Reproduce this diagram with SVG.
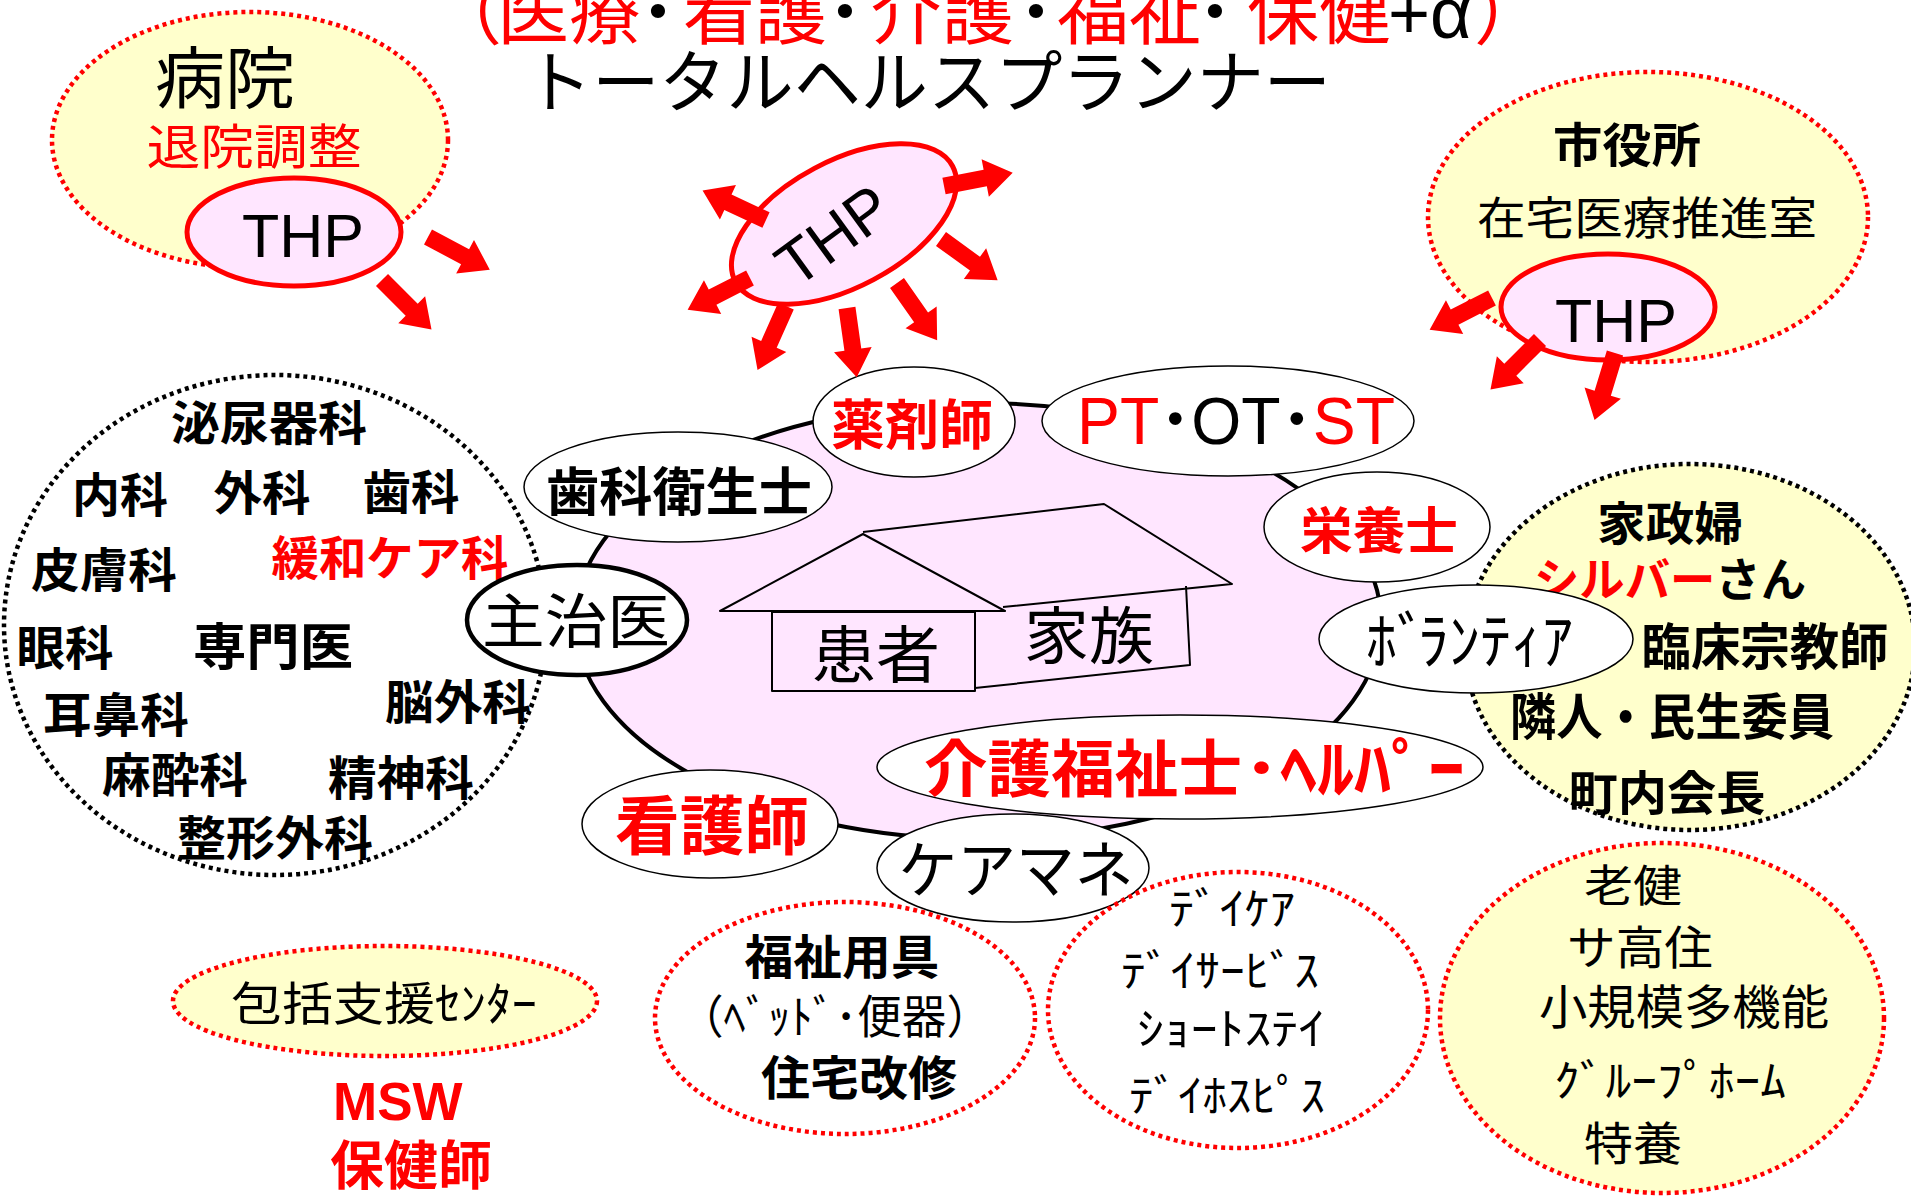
<svg xmlns="http://www.w3.org/2000/svg" xmlns:xlink="http://www.w3.org/1999/xlink" width="1911" height="1196" viewBox="0 0 1911 1196">
<style>
.bg{fill:#fff}
.dotR{stroke:#FF0000;stroke-width:4.5;stroke-dasharray:4 4}
.dotK{stroke:#000;stroke-width:4.5;stroke-dasharray:4 4}
.yel{fill:#FFFFCC}
.wht{fill:#fff}
.node{fill:#fff;stroke:#000;stroke-width:1.5}
.thp{fill:#FFE6FF;stroke:#FF0000;stroke-width:5}
.house{fill:none;stroke:#000;stroke-width:2;stroke-linejoin:round}
text{font-family:"Noto Sans CJK JP","Noto Sans CJK SC",sans-serif;text-anchor:middle;fill:#000}
.b{font-weight:bold}
.r{fill:#FF0000}
.lat{font-family:"Liberation Sans","Noto Sans CJK JP",sans-serif}
</style>
<defs>
<path id="ar" d="M0,-8.5 L42,-8.5 L42,-19 L70,0 L42,19 L42,8.5 L0,8.5 Z" fill="#FF0000"/>
</defs>
<rect class="bg" x="0" y="0" width="1911" height="1196"/>

<g id="title">
<text y="38" font-size="72" style="text-anchor:start"><tspan x="430" class="r">（</tspan><tspan x="497" class="r">医療</tspan><tspan x="640" class="b">･</tspan><tspan x="683" class="r">看護</tspan><tspan x="827" class="b">･</tspan><tspan x="870" class="r">介護</tspan><tspan x="1018" class="b">･</tspan><tspan x="1057" class="r">福祉</tspan><tspan x="1197" class="b">･</tspan><tspan x="1247" class="r">保健</tspan><tspan x="1388" class="lat">+α</tspan><tspan x="1474" class="r">）</tspan></text>
<text x="928" y="107" font-size="68" textLength="806" lengthAdjust="spacingAndGlyphs">トータルヘルスプランナー</text>
</g>

<g id="hospital">
<ellipse class="yel dotR" cx="250" cy="140" rx="198" ry="128"/>
<text x="225" y="103" font-size="67" textLength="140" lengthAdjust="spacingAndGlyphs">病院</text>
<text class="r" x="254" y="164" font-size="48" textLength="215" lengthAdjust="spacingAndGlyphs">退院調整</text>
<ellipse class="thp" cx="294" cy="232" rx="107" ry="54"/>
<text class="lat" x="303" y="257" font-size="61">THP</text>
</g>

<g id="cityhall">
<ellipse class="yel dotR" cx="1648" cy="217" rx="220" ry="145"/>
<text class="b" x="1627" y="162" font-size="47" textLength="148" lengthAdjust="spacingAndGlyphs">市役所</text>
<text x="1647" y="235" font-size="45" textLength="340" lengthAdjust="spacingAndGlyphs">在宅医療推進室</text>
<ellipse class="thp" cx="1608" cy="307" rx="107" ry="53"/>
<text class="lat" x="1616" y="342" font-size="61">THP</text>
</g>

<g id="specialists">
<ellipse class="wht dotK" cx="275" cy="625" rx="271" ry="250"/>
<g class="b" font-size="47">
<text x="269" y="440" textLength="196" lengthAdjust="spacingAndGlyphs">泌尿器科</text>
<text x="120" y="512" textLength="96" lengthAdjust="spacingAndGlyphs">内科</text>
<text x="262" y="510" textLength="97" lengthAdjust="spacingAndGlyphs">外科</text>
<text x="411" y="509" textLength="97" lengthAdjust="spacingAndGlyphs">歯科</text>
<text x="104" y="587" textLength="146" lengthAdjust="spacingAndGlyphs">皮膚科</text>
<text class="r" x="390" y="575" textLength="237" lengthAdjust="spacingAndGlyphs">緩和ケア科</text>
<text x="65" y="665" textLength="97" lengthAdjust="spacingAndGlyphs">眼科</text>
<text x="273" y="665" font-size="50" textLength="160" lengthAdjust="spacingAndGlyphs">専門医</text>
<text x="458" y="719" textLength="146" lengthAdjust="spacingAndGlyphs">脳外科</text>
<text x="116" y="732" textLength="146" lengthAdjust="spacingAndGlyphs">耳鼻科</text>
<text x="175" y="792" textLength="146" lengthAdjust="spacingAndGlyphs">麻酔科</text>
<text x="401" y="795" textLength="146" lengthAdjust="spacingAndGlyphs">精神科</text>
<text x="275" y="855" textLength="196" lengthAdjust="spacingAndGlyphs">整形外科</text>
</g>
</g>

<g id="community">
<ellipse class="yel dotK" cx="1690" cy="647" rx="225" ry="183"/>
<g class="b">
<text x="1670" y="540" font-size="46" textLength="146" lengthAdjust="spacingAndGlyphs">家政婦</text>
<text x="1670" y="596" font-size="46" textLength="272" lengthAdjust="spacingAndGlyphs"><tspan class="r">シルバー</tspan>さん</text>
<text x="1765" y="665" font-size="50" textLength="247" lengthAdjust="spacingAndGlyphs">臨床宗教師</text>
<text x="1672" y="735" font-size="50" textLength="324" lengthAdjust="spacingAndGlyphs">隣人・民生委員</text>
<text x="1667" y="810" font-size="47" textLength="197" lengthAdjust="spacingAndGlyphs">町内会長</text>
</g>
</g>

<g id="home-circle">
<ellipse cx="978" cy="621" rx="403" ry="218" fill="#FFE6FF" stroke="#000" stroke-width="4"/>
</g>

<g id="house">
<polyline class="house" points="863,532 1104,504 1232,584 1003,607"/>
<polygon class="house" points="720,611 863,534 1005,611"/>
<rect class="house" x="772" y="612" width="203" height="79"/>
<polyline class="house" points="1186,586 1190,665 975,688"/>
<text x="876" y="678" font-size="62" textLength="128" lengthAdjust="spacingAndGlyphs">患者</text>
<text x="1089" y="659" font-size="62" textLength="130" lengthAdjust="spacingAndGlyphs">家族</text>
</g>

<g id="dental-hygienist">
<ellipse class="node" cx="678" cy="487" rx="154" ry="55"/>
<text class="b" x="679" y="511" font-size="52" textLength="266" lengthAdjust="spacingAndGlyphs">歯科衛生士</text>
</g>
<g id="pharmacist">
<ellipse class="node" cx="914" cy="422" rx="101" ry="55"/>
<text class="b r" x="912" y="445" font-size="54" textLength="162" lengthAdjust="spacingAndGlyphs">薬剤師</text>
</g>
<g id="pt-ot-st">
<ellipse class="node" cx="1228" cy="421" rx="186" ry="55"/>
<text class="lat" x="1236" y="444" font-size="66" textLength="318" lengthAdjust="spacingAndGlyphs"><tspan class="r">PT</tspan><tspan class="b">･</tspan>OT<tspan class="b">･</tspan><tspan class="r">ST</tspan></text>
</g>
<g id="dietitian">
<ellipse class="node" cx="1377" cy="527" rx="113" ry="55"/>
<text class="b r" x="1379" y="549" font-size="50" textLength="158" lengthAdjust="spacingAndGlyphs">栄養士</text>
</g>
<g id="family-doctor">
<ellipse cx="577" cy="620" rx="110" ry="55" fill="#fff" stroke="#000" stroke-width="4.5"/>
<text x="576" y="643" font-size="59" textLength="188" lengthAdjust="spacingAndGlyphs">主治医</text>
</g>
<g id="volunteer">
<ellipse class="node" cx="1476" cy="639" rx="157" ry="54"/>
<text x="1366" y="664" font-size="62" style="text-anchor:start">ﾎﾞ<tspan dx="-10">ﾗﾝﾃｨｱ</tspan></text>
</g>
<g id="care-worker">
<ellipse class="node" cx="1180" cy="767" rx="303" ry="52"/>
<text class="b r" x="1083" y="792" font-size="62" textLength="318" lengthAdjust="spacingAndGlyphs">介護福祉士</text>
<text class="b r" x="1243" y="792" font-size="64" textLength="222" lengthAdjust="spacingAndGlyphs" style="text-anchor:start">･ﾍﾙﾊﾟｰ</text>
</g>
<g id="nurse">
<ellipse class="node" cx="710" cy="824" rx="128" ry="54"/>
<text class="b r" x="712" y="849" font-size="64" textLength="194" lengthAdjust="spacingAndGlyphs">看護師</text>
</g>
<g id="care-manager">
<ellipse class="node" cx="1013" cy="868" rx="136" ry="54"/>
<text x="1016" y="893" font-size="62" textLength="235" lengthAdjust="spacingAndGlyphs">ケアマネ</text>
</g>

<g id="support-center">
<ellipse class="yel dotR" cx="385" cy="1001" rx="212" ry="55"/>
<text x="384" y="1020" font-size="46" textLength="306" lengthAdjust="spacingAndGlyphs">包括支援ｾﾝﾀｰ</text>
</g>
<g id="msw">
<text class="lat b r" x="333" y="1120" font-size="53" style="text-anchor:start">MSW</text>
<text class="b r" x="411" y="1185" font-size="53" textLength="162" lengthAdjust="spacingAndGlyphs">保健師</text>
</g>
<g id="welfare-equipment">
<ellipse class="wht dotR" cx="845" cy="1018" rx="190" ry="116"/>
<text class="b" x="842" y="974" font-size="47" textLength="195" lengthAdjust="spacingAndGlyphs">福祉用具</text>
<text x="835" y="1033" font-size="46" textLength="312" lengthAdjust="spacingAndGlyphs">（ﾍﾞｯﾄﾞ･便器）</text>
<text class="b" x="859" y="1095" font-size="47" textLength="196" lengthAdjust="spacingAndGlyphs">住宅改修</text>
</g>
<g id="day-services">
<ellipse class="wht dotR" cx="1238" cy="1010" rx="190" ry="138"/>
<text x="1232" y="925" font-size="44" textLength="126" lengthAdjust="spacingAndGlyphs">ﾃﾞｲｹｱ</text>
<text x="1220" y="987" font-size="44" textLength="198" lengthAdjust="spacingAndGlyphs">ﾃﾞｲｻｰﾋﾞｽ</text>
<text x="1231" y="1045" font-size="44" textLength="188" lengthAdjust="spacingAndGlyphs">ｼｮｰﾄｽﾃｲ</text>
<text x="1227" y="1112" font-size="44" textLength="196" lengthAdjust="spacingAndGlyphs">ﾃﾞｲﾎｽﾋﾟｽ</text>
</g>
<g id="facilities">
<ellipse class="yel dotR" cx="1662" cy="1018" rx="222" ry="175"/>
<text x="1633" y="902" font-size="44" textLength="98" lengthAdjust="spacingAndGlyphs">老健</text>
<text x="1640" y="964" font-size="46" textLength="146" lengthAdjust="spacingAndGlyphs">サ高住</text>
<text x="1684" y="1024" font-size="47" textLength="290" lengthAdjust="spacingAndGlyphs">小規模多機能</text>
<text x="1670" y="1097" font-size="44" textLength="232" lengthAdjust="spacingAndGlyphs">ｸﾞﾙｰﾌﾟﾎｰﾑ</text>
<text x="1633" y="1160" font-size="46" textLength="98" lengthAdjust="spacingAndGlyphs">特養</text>
</g>

<g id="thp-center">
<ellipse class="thp" cx="844" cy="224" rx="123" ry="63" transform="rotate(-28 844 224)"/>
<g transform="translate(833,235) rotate(-36)"><text class="lat" x="0" y="22" font-size="62">THP</text></g>
</g>

<g id="connectors">
<use xlink:href="#ar" transform="translate(428,237) rotate(28)"/>
<use xlink:href="#ar" transform="translate(382,280) rotate(45)"/>
<use xlink:href="#ar" transform="translate(1492,298) rotate(153)"/>
<use xlink:href="#ar" transform="translate(1540,340) rotate(135)"/>
<use xlink:href="#ar" transform="translate(1615,353) rotate(107)"/>
<use xlink:href="#ar" transform="translate(766,220) rotate(205)"/>
<use xlink:href="#ar" transform="translate(944,186) rotate(-11)"/>
<use xlink:href="#ar" transform="translate(941,239) rotate(36)"/>
<use xlink:href="#ar" transform="translate(750,278) rotate(153)"/>
<use xlink:href="#ar" transform="translate(786,306) rotate(114)"/>
<use xlink:href="#ar" transform="translate(847,308) rotate(82)"/>
<use xlink:href="#ar" transform="translate(897,283) rotate(55)"/>
</g>
</svg>
